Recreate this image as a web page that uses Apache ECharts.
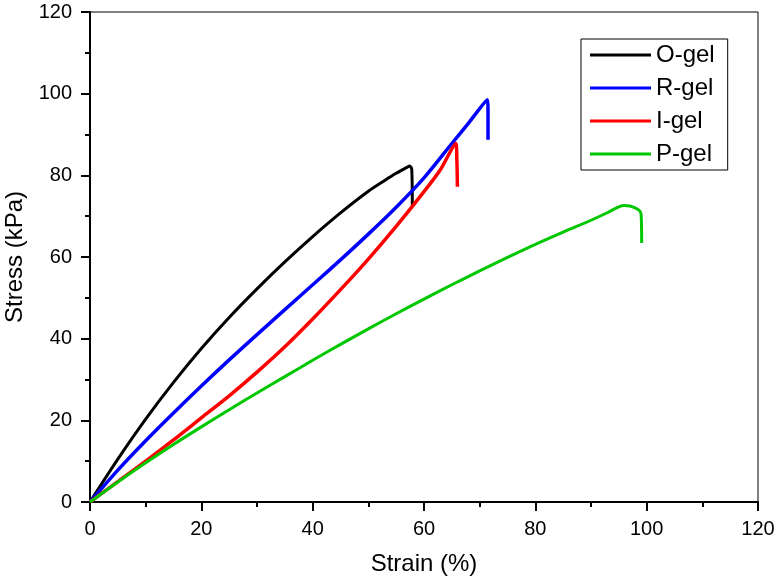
<!DOCTYPE html>
<html><head><meta charset="utf-8">
<script src="https://cdn.jsdelivr.net/npm/echarts@6/dist/echarts.min.js"></script>
<style>html,body{margin:0;padding:0;background:#fff}#c{width:778px;height:583px}</style>
</head><body><div id="c"></div>
<script>
const seriesNames = ['O-gel', 'R-gel', 'I-gel', 'P-gel'];
const oGel = [[0,0],[5,10.5],[10,20.3],[15,29.3],[20,37.6],[25,45.2],[30,52.2],[35,58.8],[40,65],[45,70.8],[50,76.1],[53,78.8],[55,80.5],[57,82],[57.4,82.3],[57.8,81.5],[57.9,72.5]];
const rGel = [[0,0],[5,7.8],[10,15],[15,21.8],[20,28.4],[25,34.8],[30,41],[35,47.1],[40,53.2],[45,59.3],[50,65.6],[55,72.2],[60,79.4],[65,87.8],[68,92.8],[71.4,98.5],[71.5,96],[71.5,88.7]];
const iGel = [[0,0],[5,5],[10,10],[15,15.2],[20,20.6],[25,26],[30,31.8],[35,38],[40,44.8],[45,52],[50,59.5],[55,67.5],[60,76],[63,81.5],[65.7,87.8],[65.9,84],[66,77.2]];
const pGel = [[0,0],[5,4.9],[10,9.6],[15,14.1],[20,18.4],[25,22.6],[30,26.7],[35,30.7],[40,34.7],[45,38.6],[50,42.4],[55,46.1],[60,49.7],[65,53.2],[70,56.6],[75,59.9],[80,63.1],[85,66.1],[90,69],[93,70.9],[95,72.3],[96,72.6],[97,72.5],[98.5,71.6],[99,70.5],[99.1,63.4]];
const colors = ['#000000', '#0000ff', '#ff0000', '#00c800'];
const widths = [3, 3.5, 3.5, 3];
const datasets = [oGel, rGel, iGel, pGel];

const font = 'Liberation Sans, Arial, sans-serif';
const chart = echarts.init(document.getElementById('c'));
chart.setOption({
  animation: false,
  grid: { left: 90, right: 20, top: 12, bottom: 81, outerBoundsMode: 'none', containLabel: false, show: true, borderColor: '#000', borderWidth: 1, backgroundColor: 'transparent' },
  legend: {
    orient: 'vertical', left: 581, top: 39,
    data: seriesNames,
    icon: 'rect', itemWidth: 61, itemHeight: 3, itemGap: 9,
    borderColor: '#000', borderWidth: 1, borderRadius: 0,
    padding: [4, 13, 4, 9],
    textStyle: { fontFamily: font, fontSize: 24, color: '#000' }
  },
  xAxis: {
    type: 'value', min: 0, max: 120, interval: 20,
    name: 'Strain (%)', nameLocation: 'middle', nameGap: 50,
    nameTextStyle: { fontFamily: font, fontSize: 24, color: '#000' },
    axisLine: { show: true, lineStyle: { color: '#000', width: 2 } },
    axisTick: { show: true, length: 9, lineStyle: { color: '#000', width: 2 } },
    minorTick: { show: true, splitNumber: 2, length: 5, lineStyle: { color: '#000', width: 2 } },
    axisLabel: { fontFamily: font, fontSize: 20, color: '#000', margin: 17 },
    splitLine: { show: false }
  },
  yAxis: {
    type: 'value', min: 0, max: 120, interval: 20,
    name: 'Stress (kPa)', nameLocation: 'middle', nameGap: 62,
    nameTextStyle: { fontFamily: font, fontSize: 24, color: '#000' },
    axisLine: { show: true, lineStyle: { color: '#000', width: 2 } },
    axisTick: { show: true, length: 9, lineStyle: { color: '#000', width: 2 } },
    minorTick: { show: true, splitNumber: 2, length: 5, lineStyle: { color: '#000', width: 2 } },
    axisLabel: { fontFamily: font, fontSize: 20, color: '#000', margin: 18 },
    splitLine: { show: false }
  },
  series: datasets.map((d, i) => ({
    name: seriesNames[i], type: 'line', data: d, showSymbol: false, symbol: 'none',
    smooth: 0.3,
    itemStyle: { color: colors[i] },
    lineStyle: { color: colors[i], width: widths[i] }
  }))
});
</script></body></html>
